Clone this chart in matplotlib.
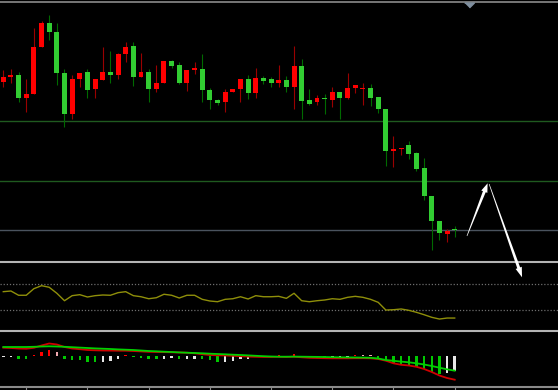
"""Candlestick chart with RSI and MACD panels, black terminal look."""

import numpy as np
import matplotlib
matplotlib.use("Agg")
import matplotlib.pyplot as plt
from matplotlib.lines import Line2D
from matplotlib.patches import Polygon

# ---- price candles (arbitrary price units) ----
OPEN = [180.3, 185.3, 187.0, 164.3, 168.3, 215.3, 239.3, 229.7, 188.7, 147.7,
        183.0, 190.3, 172.7, 182.0, 190.3, 187.0, 207.7, 216.0, 185.0, 190.3,
        173.0, 178.7, 201.0, 196.7, 179.3, 192.3, 193.0, 172.0, 162.3, 160.3,
        170.3, 172.7, 183.3, 169.3, 184.3, 182.7, 178.7, 182.0, 174.7, 196.0,
        162.0, 160.0, 164.3, 162.3, 169.7, 164.3, 174.0, 172.7, 174.0, 165.0,
        153.0, 111.3, 112.7, 116.7, 108.7, 93.7, 66.0, 41.3, 28.3, 32.3]
HIGH = [192.0, 193.0, 190.0, 183.0, 234.3, 241.3, 247.0, 238.7, 192.7, 187.0,
        188.7, 192.7, 182.7, 215.3, 211.0, 209.3, 219.7, 220.3, 208.7, 192.7,
        196.7, 201.0, 202.0, 200.3, 192.3, 199.7, 207.7, 173.7, 163.0, 172.7,
        173.0, 183.3, 186.7, 194.3, 185.7, 185.3, 197.0, 186.0, 216.3, 203.0,
        172.7, 167.0, 168.0, 174.7, 169.7, 189.3, 177.0, 178.7, 178.0, 165.0,
        153.0, 126.0, 114.3, 121.3, 109.7, 103.7, 66.0, 41.3, 32.7, 36.0]
LOW = [175.0, 179.0, 160.3, 150.3, 168.3, 215.3, 222.0, 177.0, 135.3, 142.7,
       175.3, 163.7, 163.7, 182.0, 178.7, 182.7, 200.3, 176.0, 185.0, 160.3,
       170.3, 178.7, 193.7, 177.7, 171.3, 188.0, 160.3, 152.7, 157.0, 150.3,
       170.3, 160.3, 163.0, 163.7, 177.7, 175.3, 175.3, 170.3, 152.7, 143.0,
       157.0, 157.0, 148.0, 154.7, 143.0, 163.0, 168.7, 157.0, 156.0, 149.3,
       96.0, 94.7, 107.0, 103.3, 91.3, 62.3, 12.0, 22.0, 20.3, 24.7]
CLOSE = [185.3, 187.0, 164.3, 168.3, 215.0, 239.3, 229.7, 188.7, 147.7, 183.3,
         188.7, 172.0, 182.7, 190.3, 187.0, 208.0, 215.0, 185.0, 190.3, 172.7,
         178.7, 201.0, 195.7, 179.3, 192.3, 193.0, 171.7, 162.0, 159.3, 170.3,
         173.0, 183.3, 169.3, 184.3, 181.0, 178.7, 182.0, 174.7, 196.0, 161.3,
         158.0, 164.3, 162.7, 169.7, 164.3, 174.3, 177.0, 173.7, 164.3, 152.7,
         111.3, 113.0, 114.3, 108.3, 93.0, 65.7, 41.0, 28.7, 31.0, 31.7]

# ---- RSI ----
RSI = [58.0, 59.0, 52.6, 52.6, 62.5, 67.0, 64.6, 55.6, 44.4, 52.0,
       53.5, 50.0, 52.0, 53.0, 52.6, 56.5, 58.0, 52.0, 50.4, 47.4,
       48.9, 54.1, 52.6, 48.5, 52.6, 52.6, 46.5, 44.0, 42.9, 46.5,
       47.4, 50.4, 47.0, 52.0, 50.4, 50.4, 51.0, 48.0, 55.6, 44.4,
       42.9, 44.4, 45.5, 47.4, 46.5, 49.5, 51.0, 49.5, 46.5, 42.0,
       30.4, 30.9, 32.0, 30.0, 27.0, 23.4, 19.5, 16.9, 18.4, 18.4]
RSI_LEVELS = [70, 30]

# ---- MACD ----
MACD_HIST = [-0.7, -0.7, -2.7, -3.3, 0.7, 4.0, 6.0, 4.0, -3.3, -4.0,
             -4.3, -6.0, -6.2, -5.7, -5.0, -2.7, 1.0, -1.0, -2.0, -3.2,
             -3.4, -2.7, -2.0, -3.3, -2.7, -2.5, -3.3, -4.3, -5.7, -5.5,
             -5.0, -3.3, -2.7, -1.0, -0.8, -0.3, 1.0, -0.5, 2.0, -1.0,
             -1.2, -1.7, -2.0, -1.9, -1.8, -1.7, 1.0, 0.8, 0.6, -2.0,
             -5.0, -6.7, -8.3, -9.3, -10.7, -13.3, -15.7, -17.7, -16.7, -15.0]
MACD_GREEN = [9.0, 9.0, 9.0, 9.0, 9.2, 9.5, 9.7, 9.5, 9.2, 8.8,
              8.4, 8.0, 7.6, 7.3, 7.0, 6.6, 6.3, 6.0, 5.5, 5.0,
              4.7, 4.3, 4.0, 3.6, 3.3, 3.0, 2.7, 2.3, 2.0, 1.7,
              1.3, 1.0, 0.6, 0.2, -0.2, -0.5, -0.7, -0.7, -0.6, -0.7,
              -0.8, -0.9, -1.0, -1.2, -1.3, -1.4, -1.5, -1.6, -1.8, -2.5,
              -4.0, -4.8, -5.6, -6.3, -7.3, -8.5, -10.0, -11.7, -13.3, -14.7]
MACD_RED = [8.3, 8.0, 7.5, 7.3, 8.2, 10.5, 12.5, 11.5, 9.0, 7.5,
            6.8, 6.0, 5.7, 5.5, 5.4, 5.3, 5.3, 5.0, 4.6, 4.2,
            4.0, 3.9, 3.7, 3.5, 3.3, 2.7, 1.8, 1.0, 0.7, 0.5,
            0.2, -0.2, -0.6, -0.8, -1.0, -1.0, -0.8, -1.0, -0.7, -1.3,
            -1.8, -2.0, -2.2, -2.3, -2.3, -2.3, -2.2, -2.2, -2.3, -3.0,
            -4.7, -7.3, -8.8, -9.5, -10.8, -13.0, -16.0, -19.5, -22.0, -23.7]

# horizontal levels on the price panel
LEVELS_GREEN = [141, 81]
LEVEL_GRAY = 32

# hand-drawn forecast arrows (candle index, price)
ARROW_UP = ((60.6, 26.0), (63.3, 78.7))
ARROW_DOWN = ((63.5, 78.0), (67.8, -15.3))
MARKER_POS = (60.9, 257.5)

W, H = 558, 390
XLIM = (-0.43, 72.5)


def px_axes(fig, top, bottom):
    ax = fig.add_axes([0, 1 - bottom / H, 1, (bottom - top) / H])
    ax.set_facecolor("none")
    ax.set_xlim(*XLIM)
    for s in ax.spines.values():
        s.set_visible(False)
    ax.set_xticks([])
    ax.set_yticks([])
    return ax


def tapered_arrow(ax, tail, tip, w0=0.6, w1=3.0, head_len=9.0, head_w=6.5):
    tr = ax.transData
    t = tr.transform(tail)
    p = tr.transform(tip)
    d = p - t
    u = d / np.hypot(*d)
    n = np.array([-u[1], u[0]])
    b = p - u * head_len
    pts = [t + n * w0 / 2, b + n * w1 / 2, b + n * head_w / 2, p,
           b - n * head_w / 2, b - n * w1 / 2, t - n * w0 / 2]
    pts = tr.inverted().transform(np.array(pts))
    ax.add_patch(Polygon(pts, closed=True, fc="white", ec="none",
                         clip_on=False, zorder=6))


fig = plt.figure(figsize=(W / 100, H / 100), dpi=100, facecolor="black")

ax = px_axes(fig, 3, 262)
ax_rsi = px_axes(fig, 263.7, 330.3)
ax_macd = px_axes(fig, 332, 387)
ax.set_zorder(3)

x = np.arange(len(OPEN))
o, h, l, c = (np.array(a) for a in (OPEN, HIGH, LOW, CLOSE))

# price panel
ax.set_ylim(0, 259)
for lv in LEVELS_GREEN:
    ax.axhline(lv, color="#1f5a1f", lw=1.0, zorder=1)
ax.axhline(LEVEL_GRAY, color="#4a535e", lw=1.0, zorder=1)

up = c >= o
body_col = np.where(up, "#ff0000", "#32cd32")
wick_col = np.where(up, "#9a0000", "#006a00")
ax.vlines(x, l, h, colors=wick_col, lw=0.8, zorder=2)
ax.bar(x, np.maximum(np.abs(c - o), 1.5), bottom=np.minimum(o, c),
       width=0.65, color=body_col, lw=0, zorder=3)

tapered_arrow(ax, *ARROW_UP)
tapered_arrow(ax, *ARROW_DOWN, head_len=10.0)
ax.plot(*MARKER_POS, marker=[(-1, 0.5), (1, 0.5), (0, -0.5)], ms=7,
        color="#8090a0", clip_on=False, zorder=6)

# RSI panel
ax_rsi.set_ylim(0, 100)
for lv in RSI_LEVELS:
    ax_rsi.axhline(lv, color="#6e6e6e", lw=0.9, ls=(0, (1, 1.5)))
ax_rsi.plot(x, RSI, color="#8f8f0a", lw=1.0)

# MACD panel
ax_macd.set_ylim(-31, 24)
hist = np.array(MACD_HIST)
prev = np.r_[hist[0], hist[:-1]]
hist_col = np.where(hist >= 0,
                    np.where(hist > prev, "#ff0000", "#f0a8b0"),
                    np.where(hist < prev, "#00c800", "#e8e8e8"))
ax_macd.bar(x, hist, width=0.32, color=hist_col, lw=0)
ax_macd.plot(x, MACD_RED, color="#d00000", lw=1.3)
ax_macd.plot(x, MACD_GREEN, color="#00d000", lw=1.3)

ax_macd.spines["bottom"].set_visible(True)
ax_macd.spines["bottom"].set_color("#8a8a8a")
ax_macd.spines["bottom"].set_linewidth(1.5)
ax_macd.set_xticks(range(3, 60, 8))
ax_macd.tick_params(axis="x", length=3, color="#8a8a8a", labelbottom=False)

# panel borders
for ypx, col, lw in [(2, "#808080", 1.3), (262, "#b4b4b4", 1.5), (331, "#b4b4b4", 1.5)]:
    fig.lines.append(Line2D([0, 1], [1 - ypx / H] * 2, transform=fig.transFigure,
                            color=col, lw=lw))

fig.savefig("out.png", dpi=100, facecolor="black")
